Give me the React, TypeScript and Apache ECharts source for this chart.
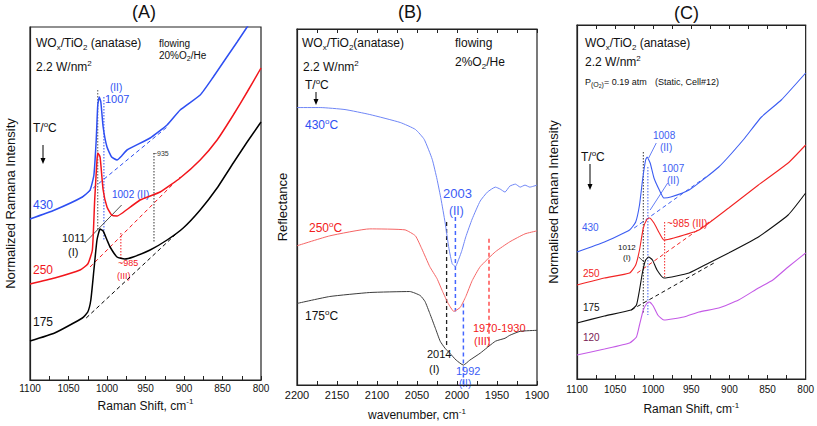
import React, { useEffect, useRef } from "react";
import * as echarts from "echarts";

type P = [number, number];

// ---------- Panel (A): Raman, flowing 20%O2/He  [Raman shift cm-1, intensity a.u.] ----------
const ramanA_430: P[] = [
  [1100, 161], [1068, 170], [1032, 183], [1022, 190], [1017, 205], [1014, 240], [1012, 275],
  [1010, 283], [1008, 278], [1005, 253], [1000, 233], [994, 223], [987, 220], [981, 224],
  [974, 230], [944, 242], [922, 255], [905, 270], [879, 285], [862, 303], [847, 320],
  [831, 338], [818, 353], [808, 365],
];
const ramanA_250: P[] = [
  [1100, 96], [1068, 102], [1035, 110], [1025, 116], [1019, 130], [1016, 180], [1013, 220],
  [1012, 227], [1009, 223], [1005, 190], [1000, 173], [994, 165], [987, 164], [980, 167],
  [957, 180], [931, 188], [905, 202], [879, 220], [857, 240], [836, 265], [818, 288], [800, 312],
];
const ramanA_175: P[] = [
  [1100, 39], [1068, 47], [1032, 62], [1025, 68], [1021, 80], [1017, 110], [1013, 140],
  [1009, 151], [1005, 149], [1000, 140], [996, 133], [987, 123], [977, 121], [966, 123],
  [944, 130], [922, 140], [901, 152], [879, 170], [857, 192], [836, 217], [818, 238], [800, 258],
];
const baseA_430: P[] = [[1032, 183], [922, 253]];
const baseA_250: P[] = [[1022, 113], [905, 203]];
const baseA_175: P[] = [[1027, 62], [909, 147]];
const markA_1011: P[] = [[1012, 290], [1012, 150]];
const markA_1007: P[] = [[1004, 283], [1004, 140]];
const markA_985: P[] = [[982, 147], [982, 120]];
const markA_935: P[] = [[939, 227], [939, 137]];
const leaderA: P[] = [[1029, 137], [981, 175]];

// ---------- Panel (B): DRIFT, flowing 2%O2/He  [wavenumber cm-1, reflectance a.u.] ----------
const irB_430: P[] = [
  [2200, 279], [2171, 279], [2140, 277], [2109, 272], [2071, 264], [2052, 257], [2041, 247],
  [2031, 227], [2025, 207], [2020, 187], [2015, 164], [2010, 137], [2006, 122], [2002, 119],
  [1999, 124], [1994, 135], [1989, 149], [1981, 167], [1971, 185], [1962, 194], [1952, 199],
  [1946, 197], [1940, 194], [1934, 200], [1927, 202], [1921, 199], [1915, 201], [1909, 199], [1900, 201],
];
const irB_250: P[] = [
  [2200, 140], [2159, 150], [2109, 157], [2065, 156], [2052, 150], [2044, 137], [2034, 119],
  [2025, 107], [2018, 94], [2011, 82], [2004, 74], [1996, 78], [1989, 89], [1981, 105],
  [1971, 119], [1952, 134], [1934, 144], [1915, 152], [1900, 155],
];
const irB_175: P[] = [
  [2200, 82], [2159, 89], [2109, 93], [2059, 94], [2046, 90], [2040, 84], [2034, 72],
  [2027, 57], [2021, 44], [2015, 37], [2009, 32], [2001, 25], [1992, 20], [1984, 25],
  [1971, 32], [1952, 44], [1940, 47], [1934, 50], [1921, 54], [1900, 55],
];
const markB_2014: P[] = [[2013, 164], [2013, 40]];
const markB_2003: P[] = [[2002, 169], [2002, 74]];
const markB_1992: P[] = [[1992, 82], [1992, 0]];
const markB_1960: P[] = [[1960, 147], [1960, 40]];

// ---------- Panel (C): Raman, static P(O2)=0.19 atm  [Raman shift cm-1, intensity a.u.] ----------
const ramanC_430: P[] = [
  [1100, 127], [1064, 137], [1031, 149], [1023, 157], [1018, 174], [1014, 199], [1010, 219],
  [1008, 222], [1004, 216], [999, 201], [992, 189], [986, 181], [977, 182], [953, 189],
  [914, 212], [882, 239], [858, 262], [832, 279], [800, 306],
];
const ramanC_250: P[] = [
  [1100, 94], [1064, 101], [1031, 106], [1023, 114], [1018, 129], [1013, 151], [1008, 160],
  [1005, 161], [999, 156], [992, 146], [986, 139], [973, 141], [940, 149], [901, 171],
  [862, 194], [823, 216], [800, 234],
];
const ramanC_175: P[] = [
  [1100, 56], [1064, 63], [1029, 69], [1022, 74], [1018, 89], [1014, 107], [1010, 119],
  [1006, 122], [1001, 119], [995, 109], [986, 101], [953, 106], [927, 116], [901, 126],
  [862, 142], [823, 164], [800, 186],
];
const ramanC_120: P[] = [
  [1100, 24], [1064, 30], [1031, 36], [1022, 42], [1018, 54], [1013, 69], [1008, 76],
  [1005, 77], [1000, 73], [994, 64], [986, 59], [960, 62], [940, 67], [914, 71],
  [888, 79], [862, 91], [843, 99], [823, 112], [800, 126],
];
const baseC_430: P[] = [[1025, 151], [931, 202]];
const baseC_250: P[] = [[1021, 106], [923, 159]];
const baseC_175: P[] = [[1029, 69], [918, 117]];
const markC_1012: P[] = [[1013, 227], [1013, 66]];
const markC_1007: P[] = [[1007, 212], [1007, 64]];
const markC_985: P[] = [[985, 157], [985, 102]];
const leaderC_1008: P[] = [[996, 236], [1006, 221]];
const leaderC_1007: P[] = [[981, 196], [1004, 169]];
const leaderC_1012: P[] = [[1019, 122], [1012, 117]];

const FONT = "'Liberation Sans', Arial, Helvetica, sans-serif";

const C = {
  blueA: "#2e4ff2", redA: "#f2161c", blackA: "#000000",
  blueB: "#6f86f6", redB: "#f56565", blackB: "#3c3c3c",
  blueC: "#3d5ef2", redC: "#f22424", blackC: "#111111", purpleC: "#c45ae6",
};

function ln(data: P[], axis: number, color: string, width: number, type: any = "solid", smooth: any = false) {
  return {
    type: "line", xAxisIndex: axis, yAxisIndex: axis, data, symbol: "none", showSymbol: false,
    smooth, silent: true, clip: true,
    lineStyle: { color, width, type }, z: 3,
  };
}

function txt(x: number, y: number, text: string, fill: string, size: number, extra: any = {}) {
  const sizeSub = Math.round(size * 0.68);
  return {
    type: "text", x, y, silent: true,
    style: {
      text, fill, font: `${size}px ${FONT}`, textAlign: "left", textVerticalAlign: "middle",
      align: "left", verticalAlign: "middle",
      rich: {
        n: { fontSize: size, fontFamily: FONT, lineHeight: size + 4, fill, color: fill, verticalAlign: "middle" },
        sub: { fontSize: sizeSub, fontFamily: FONT, lineHeight: sizeSub, fill, color: fill, verticalAlign: "bottom" },
        sup: { fontSize: sizeSub, fontFamily: FONT, lineHeight: sizeSub, fill, color: fill, verticalAlign: "top" },
      },
      ...extra,
    },
  };
}

function arrow(x: number, y1: number, y2: number) {
  return [
    { type: "line", silent: true, shape: { x1: x, y1, x2: x, y2: y2 - 5 }, style: { stroke: "#000", lineWidth: 1 } },
    { type: "polygon", silent: true, shape: { points: [[x - 2.5, y2 - 6], [x + 2.5, y2 - 6], [x, y2]] }, style: { fill: "#000" } },
  ];
}

function xAxis(grid: number, min: number, max: number, name: string, gap: number, labelSize: number, margin: number, top = false) {
  return {
    type: "value", gridIndex: grid, min, max, interval: 50, inverse: true,
    position: top ? "top" : "bottom",
    name: top ? "" : name, nameLocation: "middle", nameGap: gap,
    nameTextStyle: {
      fontFamily: FONT, fontSize: 12, color: "#111",
      rich: { sup: { fontSize: 8, fontFamily: FONT, color: "#111", verticalAlign: "top", lineHeight: 8 },
              n: { fontSize: 12, fontFamily: FONT, color: "#111", lineHeight: 16 } },
    },
    axisLine: { show: true, lineStyle: { color: "#222", width: 1.2 } },
    axisTick: { show: true, inside: true, length: 4, lineStyle: { color: "#222" } },
    minorTick: { show: true, splitNumber: 2, length: 4, lineStyle: { color: "#222" } },
    axisLabel: { show: !top, fontFamily: FONT, fontSize: labelSize, color: "#111", margin, formatter: (v: number) => String(v) },
    splitLine: { show: false },
  };
}

function yAxis(grid: number, max: number, name: string, gap: number) {
  return {
    type: "value", gridIndex: grid, min: 0, max, name, nameLocation: "middle", nameGap: gap,
    nameTextStyle: { fontFamily: FONT, fontSize: 13, color: "#111" },
    axisLine: { show: true, lineStyle: { color: "#222", width: 1.2 } },
    axisTick: { show: false }, axisLabel: { show: false }, splitLine: { show: false },
  };
}

export default function App() {
  const ref = useRef<HTMLDivElement>(null);
  useEffect(() => {
    if (!ref.current) return;
    const chart = echarts.init(ref.current, undefined, { renderer: "svg" });
    const gridStyle = { show: true, borderColor: "#222", borderWidth: 1.2, backgroundColor: "transparent" };
    chart.setOption({
      animation: false,
      backgroundColor: "#ffffff",
      grid: [
        { left: 30, top: 27, width: 231, height: 353, ...gridStyle },
        { left: 297, top: 29, width: 240, height: 358, ...gridStyle },
        { left: 577, top: 25, width: 231, height: 354, ...gridStyle },
      ],
      xAxis: [
        xAxis(0, 800, 1100, "{n|Raman Shift, cm}{sup|-1}", 16, 10, 3),
        xAxis(1, 1900, 2200, "{n|wavenumber, cm}{sup|-1}", 22, 11, 4),
        xAxis(2, 800, 1100, "{n|Raman Shift, cm}{sup|-1}", 22, 10, 5),
        xAxis(1, 1900, 2200, "", 0, 11, 4, true),
        xAxis(2, 800, 1100, "", 0, 10, 5, true),
      ],
      yAxis: [
        yAxis(0, 353, "Normalized Ramana Intensity", 13),
        yAxis(1, 358, "Reflectance", 8),
        yAxis(2, 354, "Normalised Raman Intensity", 17),
      ],
      series: [
        // A
        ln(baseA_430, 0, C.blueA, 1, [4, 3]),
        ln(baseA_250, 0, C.redA, 1, [4, 3]),
        ln(baseA_175, 0, C.blackA, 1, [4, 3]),
        ln(markA_1011, 0, "#555", 1, [1.5, 1.5]),
        ln(markA_1007, 0, C.blueA, 1, [1.5, 1.5]),
        ln(markA_985, 0, C.redA, 1, [1.5, 1.5]),
        ln(markA_935, 0, "#333", 1, [1.5, 1.5]),
        ln(leaderA, 0, "#222", 0.8),
        ln(ramanA_430, 0, C.blueA, 1.5, "solid", 0.15),
        ln(ramanA_250, 0, C.redA, 1.5, "solid", 0.15),
        ln(ramanA_175, 0, C.blackA, 1.5, "solid", 0.15),
        // B
        ln(markB_2014, 1, "#222", 1.3, [4, 3]),
        ln(markB_2003, 1, "#4466ff", 1.5, [4, 3]),
        ln(markB_1992, 1, "#4466ff", 1.5, [4, 3]),
        ln(markB_1960, 1, "#ff3333", 1.3, [4, 3]),
        ln(irB_430, 1, C.blueB, 1, "solid", 0.15),
        ln(irB_250, 1, C.redB, 1, "solid", 0.15),
        ln(irB_175, 1, C.blackB, 1, "solid", 0.15),
        // C
        ln(baseC_430, 2, C.blueC, 1, [4, 3]),
        ln(baseC_250, 2, C.redC, 1, [4, 3]),
        ln(baseC_175, 2, C.blackC, 1, [4, 3]),
        ln(markC_1012, 2, "#333", 1, [1.5, 1.5]),
        ln(markC_1007, 2, C.blueC, 1, [1.5, 1.5]),
        ln(markC_985, 2, C.redC, 1, [1.5, 1.5]),
        ln(leaderC_1008, 2, C.blueC, 0.8),
        ln(leaderC_1007, 2, C.blueC, 0.8),
        ln(leaderC_1012, 2, "#222", 0.8),
        ln(ramanC_430, 2, C.blueC, 1.1, "solid", 0.15),
        ln(ramanC_250, 2, C.redC, 1.1, "solid", 0.15),
        ln(ramanC_175, 2, C.blackC, 1.1, "solid", 0.15),
        ln(ramanC_120, 2, C.purpleC, 1.1, "solid", 0.15),
      ],
      graphic: [
        // titles
        txt(132, 12, "(A)", "#111", 18),
        txt(398, 12, "(B)", "#111", 18),
        txt(674, 13, "(C)", "#111", 18),
        // Panel A
        txt(36, 43, "{n|WO}{sub|x}{n|/TiO}{sub|2}{n| (anatase)}", "#111", 12),
        txt(159, 43, "flowing", "#111", 10),
        txt(159, 55, "{n|20%O}{sub|2}{n|/He}", "#111", 10),
        txt(36, 67, "{n|2.2 W/nm}{sup|2}", "#111", 12),
        txt(110, 87, "(II)", C.blueA, 10),
        txt(105, 99, "1007", C.blueA, 11),
        txt(33, 128, "{n|T/}{sup|o}{n|C}", "#111", 12),
        ...arrow(43, 145, 164),
        txt(33, 205, "430", C.blueA, 12),
        txt(153, 153, "~935", "#333", 7),
        txt(112, 194, "1002 (II)", C.blueA, 10),
        txt(62, 238, "1011", "#111", 11),
        txt(68, 252, "(I)", "#111", 11),
        txt(33, 270, "250", C.redA, 12),
        txt(118, 263, "~985", C.redA, 9),
        txt(117, 276, "(III)", C.redA, 9),
        txt(33, 322, "175", "#111", 12),
        // Panel B
        txt(302, 43, "{n|WO}{sub|x}{n|/TiO}{sub|2}{n|(anatase)}", "#111", 12),
        txt(455, 43, "flowing", "#111", 12),
        txt(455, 62, "{n|2%O}{sub|2}{n|/He}", "#111", 12),
        txt(303, 67, "{n|2.2 W/nm}{sup|2}", "#111", 12),
        txt(305, 85, "{n|T/}{sup|o}{n|C}", "#111", 12),
        ...arrow(316, 92, 105),
        txt(305, 125, "{n|430}{sup|o}{n|C}", C.blueA, 12),
        txt(443, 193, "2003", "#3b5cf5", 13),
        txt(449, 211, "(II)", "#3b5cf5", 12),
        txt(309, 228, "{n|250}{sup|o}{n|C}", "#f22020", 12),
        txt(305, 316, "{n|175}{sup|o}{n|C}", "#111", 12),
        txt(473, 328, "1970-1930", "#f22020", 11),
        txt(474, 341, "(III)", "#f22020", 11),
        txt(427, 354, "2014", "#111", 11),
        txt(429, 369, "(I)", "#111", 11),
        txt(456, 371, "1992", "#3b5cf5", 11),
        txt(459, 383, "(II)", "#3b5cf5", 10),
        // Panel C
        txt(585, 43, "{n|WO}{sub|x}{n|/TiO}{sub|2}{n| (anatase)}", "#111", 12),
        txt(585, 62, "{n|2.2 W/nm}{sup|2}", "#111", 12),
        txt(585, 82, "{n|P}{sub|(O}{sub2|2}{sub|)}{n|= 0.19 atm}", "#111", 9, {
          rich: {
            n: { fontSize: 9, fontFamily: FONT, lineHeight: 12, fill: "#111", verticalAlign: "middle" },
            sub: { fontSize: 7, fontFamily: FONT, lineHeight: 9, fill: "#111", verticalAlign: "bottom" },
            sub2: { fontSize: 5, fontFamily: FONT, lineHeight: 5, fill: "#111", verticalAlign: "bottom" },
          },
        }),
        txt(655, 82, "(Static, Cell#12)", "#111", 9),
        txt(653, 135, "1008", C.blueC, 10),
        txt(660, 147, "(II)", C.blueC, 10),
        txt(581, 157, "{n|T/}{sup|o}{n|C}", "#111", 12),
        ...arrow(590, 164, 190),
        txt(662, 168, "1007", C.blueC, 10),
        txt(667, 180, "(II)", C.blueC, 10),
        txt(582, 227, "430", C.blueC, 10),
        txt(667, 223, "~985 (III)", C.redC, 10),
        txt(618, 247, "1012", "#111", 8),
        txt(623, 257, "(I)", "#111", 8),
        txt(583, 273, "250", C.redC, 10),
        txt(583, 307, "175", "#111", 10),
        txt(583, 337, "120", "#7a1a55", 10),
      ],
    });
    return () => chart.dispose();
  }, []);
  return (
    <div
      ref={ref}
      style={{ position: "fixed", left: 0, top: 0, width: 817, height: 426, background: "#fff" }}
    />
  );
}
